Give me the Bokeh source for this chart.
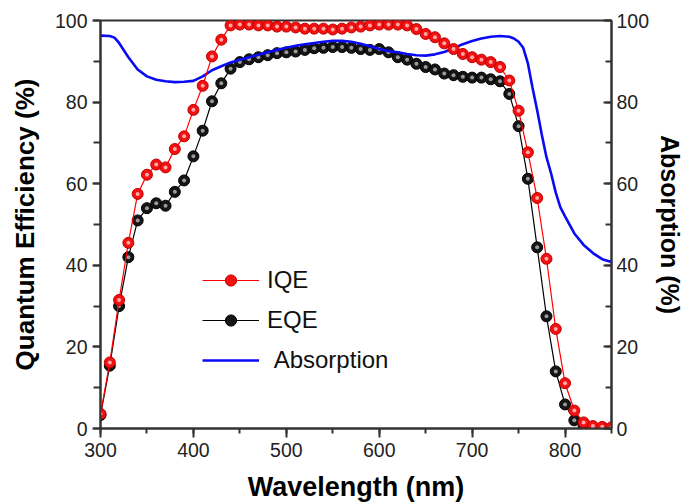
from bokeh.plotting import figure
from bokeh.models import Range1d, LinearAxis, SingleIntervalTicker, Legend, LegendItem
from bokeh.embed import file_html
from bokeh.resources import INLINE

# ---- data ----
wl_iqe = list(range(300, 851, 10))
iqe = [3.6, 16.2, 31.5, 45.5, 57.5, 62.2, 64.7, 64.0, 68.5, 71.6,
       78.1, 84.0, 91.2, 95.3, 98.8, 99.0, 99.0, 98.8, 98.8, 98.5,
       98.5, 98.3, 98.0, 98.0, 98.0, 97.8, 98.0, 98.3, 98.5, 98.8,
       99.0, 99.0, 99.0, 98.8, 97.9, 96.7, 95.9, 94.4, 93.0, 91.8,
       91.0, 90.4, 89.8, 88.6, 85.3, 77.9, 67.7, 56.5, 41.6, 24.4,
       11.1, 4.4, 1.5, 0.6, 0.4, 0.3]

wl_eqe = list(range(300, 821, 10))
eqe = [3.3, 15.4, 30.0, 42.0, 51.0, 54.0, 55.2, 54.6, 58.0, 60.8,
       66.7, 73.0, 80.2, 84.6, 88.2, 89.8, 90.5, 91.0, 91.5, 92.0,
       92.2, 92.4, 92.8, 93.2, 93.3, 93.5, 93.5, 93.3, 93.0, 92.8,
       93.0, 92.2, 91.0, 90.4, 89.4, 88.6, 88.0, 87.0, 86.6, 86.2,
       86.0, 86.0, 85.6, 85.1, 82.0, 74.1, 61.2, 44.4, 27.5, 14.0,
       5.9, 2.0, 0.5]

wl_abs = [300, 310, 315, 320, 330, 340, 350, 360, 370, 380, 390, 400,
          410, 420, 430, 440, 450, 460, 470, 480, 490, 500, 510, 520,
          530, 540, 550, 560, 570, 580, 590, 600, 610, 620, 630, 640,
          650, 660, 670, 680, 690, 700, 710, 720, 730, 740, 745, 750,
          755, 760, 765, 770, 775, 780, 785, 790, 795, 800, 810, 820,
          830, 840, 850]
absorption = [96.3, 96.2, 95.8, 94.5, 91.0, 88.0, 86.3, 85.5, 85.1, 84.9, 85.0, 85.2,
              86.3, 87.8, 88.8, 89.7, 90.4, 91.0, 91.6, 92.2, 92.8, 93.3, 93.8, 94.2,
              94.5, 94.8, 95.0, 95.0, 94.8, 94.3, 93.7, 93.0, 92.5, 92.2, 91.8, 91.5,
              91.4, 91.7, 92.3, 93.2, 94.2, 95.0, 95.6, 96.0, 96.2, 96.0, 95.6, 94.8,
              93.3, 89.5, 83.5, 78.0, 72.0, 66.5, 62.5, 57.8, 54.2, 52.0, 47.8, 45.0,
              43.0, 41.5, 40.8]

x_label = "Wavelength (nm)"
left_label = "Quantum Efficiency (%)"
right_label = "Absorption (%)"

FONT = "Liberation Sans"
AX_COL = "#333333"

p = figure(frame_width=511, frame_height=408,
           x_range=Range1d(300, 850), y_range=Range1d(0, 100),
           output_backend="svg", toolbar_location=None,
           min_border_left=100, min_border_right=71,
           min_border_top=20, min_border_bottom=75,
           background_fill_color="white", border_fill_color="white")
p.extra_y_ranges = {"abs": Range1d(0, 100)}
p.xgrid.visible = False
p.ygrid.visible = False
p.outline_line_color = AX_COL
p.outline_line_width = 2


def style_axis(ax, label, label_size, tick_out, tick_in, minor_out, minor_in, label_standoff):
    ax.axis_label = label
    ax.axis_label_text_font = FONT
    ax.axis_label_text_font_style = "bold"
    ax.axis_label_text_font_size = label_size
    ax.axis_label_text_color = "#000000"
    ax.axis_label_standoff = label_standoff
    ax.major_label_text_font = FONT
    ax.major_label_text_font_size = "19.5px"
    ax.major_label_text_color = "#222222"
    ax.major_label_standoff = 5
    ax.axis_line_color = AX_COL
    ax.axis_line_width = 2
    ax.major_tick_line_color = AX_COL
    ax.major_tick_line_width = 2
    ax.minor_tick_line_color = AX_COL
    ax.minor_tick_line_width = 2
    ax.major_tick_out = tick_out
    ax.major_tick_in = tick_in
    ax.minor_tick_out = minor_out
    ax.minor_tick_in = minor_in


p.xaxis.ticker = SingleIntervalTicker(interval=100, num_minor_ticks=2)
p.yaxis.ticker = SingleIntervalTicker(interval=20, num_minor_ticks=2)
style_axis(p.xaxis[0], x_label, "27px", 9, 0, 5, 0, 12)
style_axis(p.yaxis[0], left_label, "26px", 8, 0, 7, 0, 12)

raxis = LinearAxis(y_range_name="abs",
                   ticker=SingleIntervalTicker(interval=20, num_minor_ticks=2))
style_axis(raxis, right_label, "25px", 0, 8, 0, 6, 4)
p.add_layout(raxis, "right")

# ---- glyphs ----
l_eqe = p.line(wl_eqe, eqe, line_color="#000000", line_width=1.2)
s_eqe = p.scatter(wl_eqe, eqe, size=11, fill_color="#151515", line_color="#000000", line_width=1)
p.scatter(wl_eqe, eqe, size=4, fill_color="#9a9a9a", line_color=None)

l_abs = p.line(wl_abs, absorption, line_color="#0a0af5", line_width=2.6, y_range_name="abs")

l_iqe = p.line(wl_iqe, iqe, line_color="#ff0000", line_width=1.2)
s_iqe = p.scatter(wl_iqe, iqe, size=11, fill_color="#f21010", line_color="#c00000", line_width=1)
p.scatter(wl_iqe, iqe, size=4, fill_color="#ffaaaa", line_color=None)

legend = Legend(items=[LegendItem(label="IQE", renderers=[l_iqe, s_iqe]),
                       LegendItem(label="EQE", renderers=[l_eqe, s_eqe]),
                       LegendItem(label="\u00a0Absorption", renderers=[l_abs])],
                location=(102, 54), glyph_width=57, glyph_height=28,
                label_height=28, spacing=12, padding=0, margin=0,
                label_standoff=8, border_line_color=None,
                background_fill_alpha=0,
                label_text_font=FONT, label_text_font_size="24px",
                label_text_color="#111111")
p.add_layout(legend)

open("out.html", "w").write(file_html(p, INLINE))
